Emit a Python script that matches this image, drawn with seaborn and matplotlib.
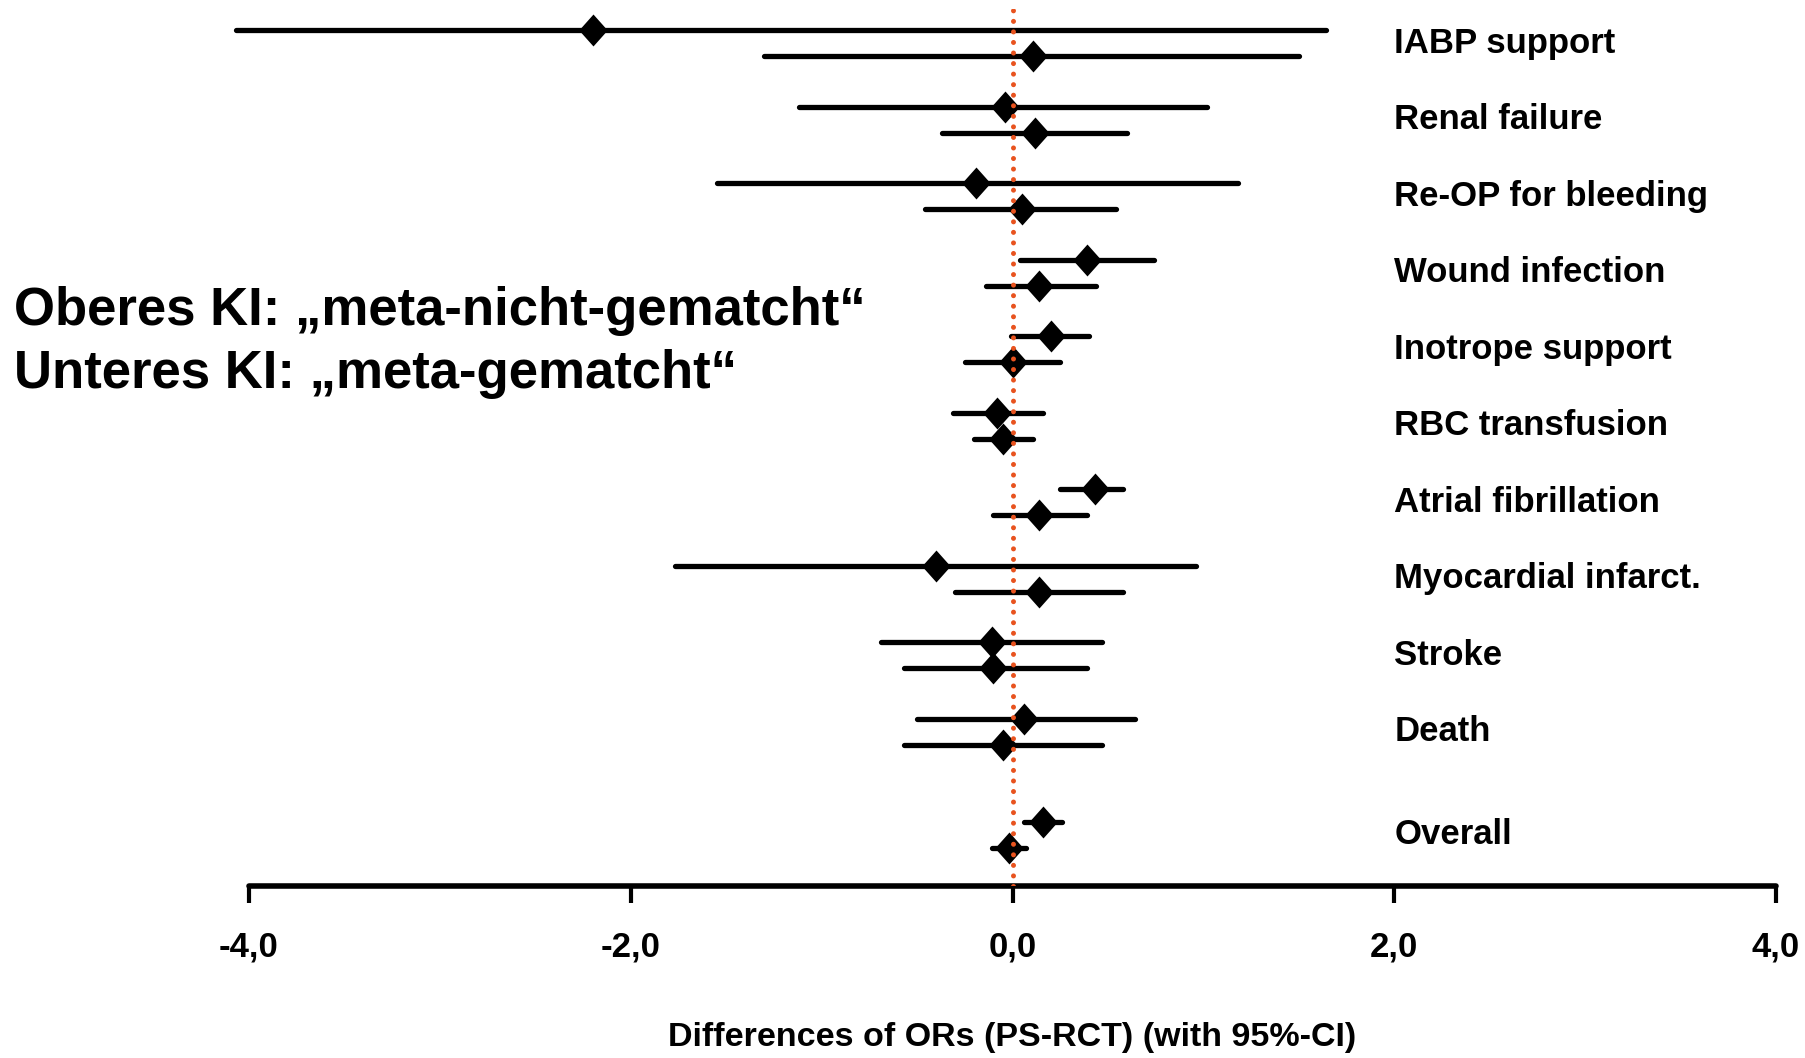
import matplotlib
matplotlib.use("Agg")
import matplotlib.pyplot as plt
import seaborn as sns
import pandas as pd
import numpy as np

categories = ["IABP support", "Renal failure", "Re-OP for bleeding", "Wound infection",
              "Inotrope support", "RBC transfusion", "Atrial fibrillation",
              "Myocardial infarct.", "Stroke", "Death", "Overall"]

# upper CI: "meta-nicht-gematcht"
upper_est = [-2.20, -0.04, -0.19, 0.39, 0.20, -0.08, 0.43, -0.40, -0.11, 0.06, 0.16]
upper_lo  = [-4.07, -1.12, -1.55, 0.04, -0.01, -0.31, 0.25, -1.77, -0.69, -0.50, 0.06]
upper_hi  = [1.64, 1.02, 1.18, 0.74, 0.40, 0.16, 0.58, 0.96, 0.47, 0.64, 0.26]

# lower CI: "meta-gematcht"
lower_est = [0.11, 0.12, 0.05, 0.14, 0.00, -0.05, 0.14, 0.14, -0.10, -0.05, -0.02]
lower_lo  = [-1.30, -0.37, -0.46, -0.14, -0.25, -0.20, -0.10, -0.30, -0.57, -0.57, -0.11]
lower_hi  = [1.50, 0.60, 0.54, 0.44, 0.25, 0.11, 0.39, 0.58, 0.39, 0.47, 0.07]

xticks = [-4, -2, 0, 2, 4]
xtick_labels = ["-4,0", "-2,0", "0,0", "2,0", "4,0"]
xlabel = "Differences of ORs (PS-RCT) (with 95%-CI)"
note_upper = "Oberes KI: \u201emeta-nicht-gematcht\u201c"
note_lower = "Unteres KI: \u201emeta-gematcht\u201c"

sns.set_style("white")
plt.rcParams["font.family"] = ["Liberation Sans", "DejaVu Sans"]
plt.rcParams["font.weight"] = "bold"
plt.rcParams["text.color"] = "black"
plt.rcParams["xtick.color"] = "black"
plt.rcParams["axes.labelcolor"] = "black"

# group positions (Overall set a bit apart)
n = len(categories)
centers = np.arange(n, dtype=float)
centers[-1] = n - 1 + 0.35
off = 0.17

rows = []
for i, c in enumerate(categories):
    rows.append(dict(cat=c, grp="upper", y=centers[i] - off, est=upper_est[i], lo=upper_lo[i], hi=upper_hi[i]))
    rows.append(dict(cat=c, grp="lower", y=centers[i] + off, est=lower_est[i], lo=lower_lo[i], hi=lower_hi[i]))
df = pd.DataFrame(rows)

fig = plt.figure(figsize=(18.05, 10.58), dpi=100)
ax = fig.add_axes([249 / 1805, 1 - 886 / 1058, (1776 - 249) / 1805, (886 - 9) / 1058])

ax.hlines(df["y"], df["lo"], df["hi"], color="black", linewidth=3.8, capstyle="round",
          zorder=2, clip_on=False)
diamond = [(-0.446, 0), (0, 0.5), (0.446, 0), (0, -0.5), (-0.446, 0)]
sns.scatterplot(data=df, x="est", y="y", marker=diamond, s=23 ** 2, color="black",
                edgecolor="black", linewidth=0, ax=ax, zorder=3, legend=False, clip_on=False)

ax.axvline(0, color="#E8531F", linestyle=(0, (0.01, 2.1)), linewidth=3.6,
           dash_capstyle="round", zorder=4)

ax.set_xlim(-4, 4)
ax.set_ylim(11.02, -0.45)
ax.set_yticks([])
ax.set_ylabel("")
ax.set_xticks(xticks)
ax.set_xticklabels(xtick_labels, fontsize=25, fontweight="bold")
ax.tick_params(axis="x", direction="out", length=12, width=3, pad=20, color="black", bottom=True)
ax.set_xlabel(xlabel, fontsize=24.5, fontweight="bold", labelpad=42)

for s in ["top", "right", "left"]:
    ax.spines[s].set_visible(False)
ax.spines["bottom"].set_linewidth(4)
ax.spines["bottom"].set_color("black")
ax.spines["bottom"].set_capstyle("round")

for i, c in enumerate(categories):
    ax.text(2.0, centers[i], c, fontsize=25, fontweight="bold", ha="left", va="center",
            clip_on=False)

fig.text(14 / 1805, 1 - 311 / 1058, note_upper, fontsize=38, fontweight="bold", ha="left", va="center")
fig.text(14 / 1805, 1 - 374 / 1058, note_lower, fontsize=38, fontweight="bold", ha="left", va="center")

fig.savefig("out.png", dpi=100)
